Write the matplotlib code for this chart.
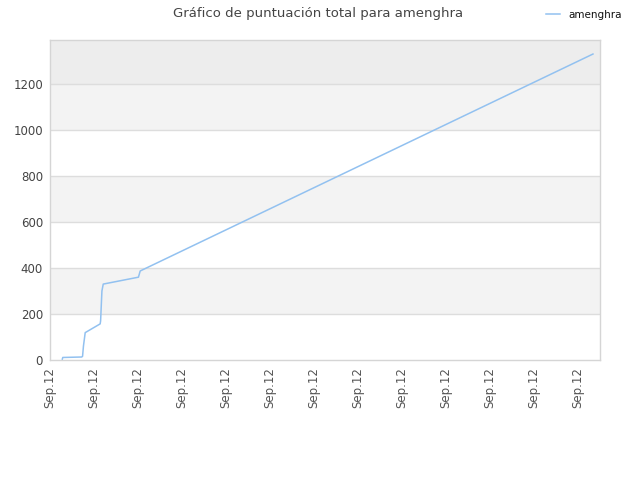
import matplotlib
matplotlib.use("Agg")
import matplotlib.pyplot as plt

# data (x in tick units; all ticks labelled "Sep.12")
x_vals = [0.28, 0.29, 0.72, 0.74, 0.76, 0.80, 1.14, 1.15, 1.18, 1.21, 2.01, 2.05, 12.34]
y_vals = [4, 11, 13, 16, 60, 119, 157, 170, 300, 330, 360, 387, 1330]
tick_pos = list(range(13))
tick_labels = ["Sep.12"] * 13
y_ticks = [0, 200, 400, 600, 800, 1000, 1200]
series_name = "amenghra"
title = "Gráfico de puntuación total para amenghra"

fig = plt.figure(figsize=(6.4, 4.8), dpi=100)
ax = fig.add_axes([50/640, 120/480, 550/640, 320/480])
ymax = 1391
ax.set_xlim(0, 12.5)
ax.set_ylim(0, ymax)

# bands
band_colors = {200: "#f3f3f3", 600: "#f3f3f3", 1000: "#f3f3f3"}
for lo, c in band_colors.items():
    ax.axhspan(lo, lo + 200, color=c, zorder=0, lw=0)
ax.axhspan(1200, ymax, color="#ededed", zorder=0, lw=0)
for yt in y_ticks[1:]:
    ax.axhline(yt, color="#dddddd", lw=1, zorder=1)

line, = ax.plot(x_vals, y_vals, color="#92c1f0", lw=1.1, zorder=3, label=series_name)

ax.set_xticks(tick_pos)
ax.set_xticklabels(tick_labels, rotation=90, fontsize=8.5, color="#555555")
ax.set_yticks(y_ticks)
ax.set_yticklabels([str(v) for v in y_ticks], fontsize=8.5, color="#444444")
ax.tick_params(length=0, pad=5)
for s in ax.spines.values():
    s.set_color("#d5d5d5")
    s.set_linewidth(1)

fig.text(318/640, 1 - 13/480, title, ha="center", va="center", fontsize=9.5, color="#444444")
leg = fig.legend(handles=[line], labels=[series_name], loc="center left",
                 bbox_to_anchor=(537/640, 1 - 15/480),
                 frameon=False, fontsize=7.5, handlelength=1.3, handletextpad=0.8)
for t in leg.get_texts():
    t.set_color("#111111")

fig.savefig("out.png", dpi=100)
